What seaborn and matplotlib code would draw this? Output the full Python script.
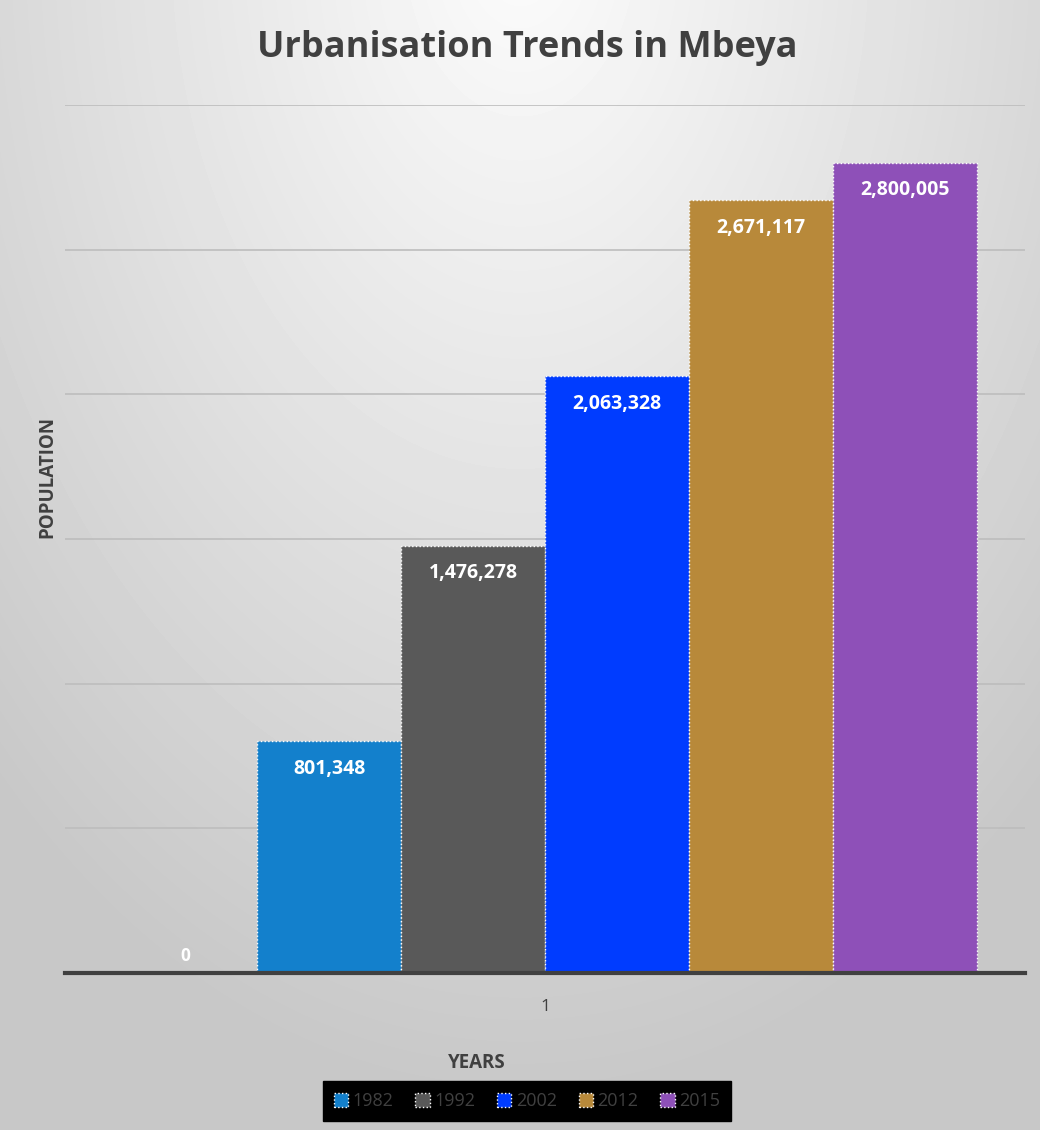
import numpy as np
import pandas as pd
import seaborn as sns
import matplotlib.pyplot as plt
from matplotlib.patches import Patch

categories = ["1"]
series = ["Series0", "1982", "1992", "2002", "2012", "2015"]
values = [0, 801348, 1476278, 2063328, 2671117, 2800005]
colors = ["#d0d0d0", "#1380CC", "#595959", "#003CFF", "#B8893A", "#8E50B8"]
legend_series = ["1982", "1992", "2002", "2012", "2015"]

df = pd.DataFrame({"cat": categories * len(series), "series": series, "value": values})

sns.set_style("white")
plt.rcParams['font.family'] = ['Open Sans', 'DejaVu Sans']

W, H = 1040, 1130
fig = plt.figure(figsize=(W / 100, H / 100), dpi=100)

# background gradient
yy, xx = np.mgrid[0:H, 0:W]
r = np.sqrt(((xx - 520) / 760.0) ** 2 + ((yy + 60) / 1150.0) ** 2)
grad = 252 - 52 * np.clip(r, 0, 1)
bg = fig.add_axes([0, 0, 1, 1], zorder=-10)
bg.imshow(grad, cmap="gray", vmin=0, vmax=255, aspect="auto", interpolation="bilinear")
bg.axis("off")

ax = fig.add_axes([65 / W, 1 - 973 / H, 960 / W, (973 - 105) / H])
ax.patch.set_alpha(0)
sns.barplot(data=df, x="cat", y="value", hue="series", hue_order=series,
            palette=dict(zip(series, colors)), width=0.9, saturation=1,
            edgecolor="white", linewidth=1, linestyle=":", errorbar=None,
            legend=False, ax=ax)

ax.set_ylim(0, 3_000_000)
ax.set_yticks(np.arange(0, 3_000_001, 500_000))
ax.tick_params(axis="y", length=0, labelleft=False)
ax.tick_params(axis="x", length=0, pad=19, labelsize=12.5, labelcolor="#404040")
ax.grid(axis="y", color="#bdbdbd", lw=1.2)
ax.set_axisbelow(True)
for s in ["top", "right", "left"]:
    ax.spines[s].set_visible(False)
ax.spines["bottom"].set_color("#404040")
ax.spines["bottom"].set_linewidth(3)
ax.set_xlabel("")
ax.set_ylabel("")

for cont, v in zip(ax.containers, values):
    if v == 0:
        ax.bar_label(cont, labels=[f"{v:,}"], padding=6, color="white",
                     fontsize=12.5, fontweight="bold")
    else:
        ax.bar_label(cont, labels=[f"{v:,}"], padding=-27, color="white",
                     fontsize=14, fontweight="bold")

fig.text(527 / W, 1 - 48 / H, "Urbanisation Trends in Mbeya", ha="center", va="center",
         fontsize=26, fontweight="bold", color="#404040")
fig.text(47 / W, 1 - 477 / H, "POPULATION", rotation=90, ha="center", va="center",
         fontsize=13.5, fontweight="bold", color="#404040")
fig.text(477 / W, 1 - 1063 / H, "YEARS", ha="center", va="center",
         fontsize=13.5, fontweight="bold", color="#404040")

cmap = dict(zip(series, colors))
handles = [Patch(facecolor=cmap[s], edgecolor="white", linestyle=":", linewidth=1)
           for s in legend_series]
leg = fig.legend(handles, legend_series, loc="center", bbox_to_anchor=(527 / W, 1 - 1101 / H),
                 ncol=5, facecolor="black", edgecolor="black", framealpha=1, fancybox=False,
                 labelcolor="#404040", handlelength=0.8, handleheight=0.8,
                 handletextpad=0.25, columnspacing=1.2, fontsize=13, borderpad=0.6)

fig.savefig("out.png", dpi=100)
